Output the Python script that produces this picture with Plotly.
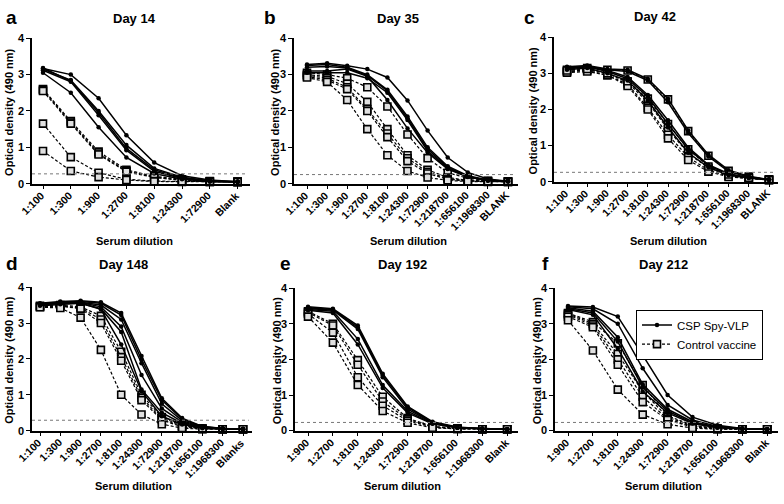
import plotly.graph_objects as go

W, H = 784, 504

# ---------------- data ----------------
cats_a = ["1:100", "1:300", "1:900", "1:2700", "1:8100", "1:24300", "1:72900", "Blank"]
csp_a = [
    [3.17, 3.00, 2.35, 1.33, 0.58, 0.22, 0.10, 0.05],
    [3.15, 2.85, 2.00, 1.06, 0.42, 0.18, 0.08, 0.05],
    [3.18, 2.82, 1.95, 0.97, 0.38, 0.16, 0.07, 0.05],
    [3.12, 2.80, 1.88, 0.92, 0.34, 0.14, 0.06, 0.05],
    [3.05, 2.50, 1.55, 0.72, 0.28, 0.12, 0.06, 0.05],
]
ctrl_a = [
    [2.60, 1.72, 0.88, 0.38, 0.20, 0.12, 0.07, 0.05],
    [2.58, 1.68, 0.83, 0.35, 0.18, 0.10, 0.06, 0.05],
    [2.55, 1.65, 0.80, 0.33, 0.17, 0.09, 0.06, 0.05],
    [1.65, 0.73, 0.30, 0.12, 0.07, 0.06, 0.05, 0.05],
    [0.90, 0.35, 0.18, 0.10, 0.06, 0.05, 0.05, 0.05],
]
cut_a = 0.27

cats_b = ["1:100", "1:300", "1:900", "1:2700", "1:8100", "1:24300", "1:72900",
          "1:218700", "1:656100", "1:1968300", "BLANK"]
csp_b = [
    [3.28, 3.31, 3.24, 3.15, 2.92, 2.29, 1.46, 0.72, 0.31, 0.13, 0.07],
    [3.25, 3.28, 3.20, 3.00, 2.58, 1.85, 1.00, 0.48, 0.22, 0.10, 0.07],
    [3.20, 3.22, 3.18, 2.97, 2.55, 1.80, 0.95, 0.45, 0.20, 0.09, 0.07],
    [3.10, 3.10, 3.15, 2.95, 2.30, 1.52, 0.85, 0.40, 0.18, 0.09, 0.06],
    [3.05, 3.05, 3.05, 2.90, 2.50, 1.75, 0.90, 0.42, 0.19, 0.09, 0.06],
]
ctrl_b = [
    [3.05, 3.00, 2.90, 2.65, 2.12, 1.35, 0.70, 0.30, 0.15, 0.08, 0.06],
    [3.00, 2.95, 2.75, 2.25, 1.50, 0.78, 0.38, 0.17, 0.09, 0.07, 0.06],
    [2.98, 2.90, 2.65, 2.05, 1.38, 0.70, 0.32, 0.14, 0.08, 0.06, 0.06],
    [2.95, 2.85, 2.60, 2.00, 1.28, 0.62, 0.28, 0.12, 0.07, 0.06, 0.05],
    [2.92, 2.80, 2.30, 1.50, 0.78, 0.35, 0.17, 0.09, 0.06, 0.05, 0.05],
]
cut_b = 0.25

cats_c = cats_b
csp_c = [
    [3.18, 3.22, 3.12, 3.10, 2.85, 2.30, 1.42, 0.75, 0.32, 0.15, 0.06],
    [3.15, 3.20, 3.10, 3.05, 2.80, 2.20, 1.35, 0.70, 0.28, 0.13, 0.06],
    [3.12, 3.18, 3.05, 2.85, 2.35, 1.60, 0.90, 0.45, 0.20, 0.11, 0.06],
    [3.10, 3.15, 3.00, 2.80, 2.25, 1.50, 0.80, 0.40, 0.18, 0.10, 0.05],
    [3.15, 3.20, 3.08, 2.90, 2.40, 1.70, 0.95, 0.47, 0.22, 0.12, 0.06],
]
ctrl_c = [
    [3.10, 3.15, 3.10, 3.08, 2.83, 2.28, 1.40, 0.72, 0.30, 0.14, 0.06],
    [3.05, 3.10, 3.00, 2.75, 2.20, 1.45, 0.78, 0.38, 0.17, 0.10, 0.05],
    [3.05, 3.08, 2.95, 2.70, 2.05, 1.30, 0.68, 0.32, 0.15, 0.09, 0.05],
    [3.02, 3.05, 2.95, 2.65, 2.00, 1.20, 0.60, 0.28, 0.13, 0.08, 0.05],
    [3.08, 3.12, 3.00, 2.78, 2.30, 1.60, 0.90, 0.42, 0.20, 0.11, 0.05],
]
cut_c = 0.26

cats_d = ["1:100", "1:300", "1:900", "1:2700", "1:8100", "1:24300", "1:72900",
          "1:218700", "1:656100", "1:1968300", "Blanks"]
csp_d = [
    [3.55, 3.60, 3.62, 3.58, 3.28, 2.08, 0.90, 0.35, 0.12, 0.06, 0.05],
    [3.53, 3.58, 3.60, 3.55, 3.22, 1.98, 0.85, 0.32, 0.11, 0.06, 0.05],
    [3.52, 3.57, 3.58, 3.50, 3.10, 1.88, 0.75, 0.28, 0.10, 0.05, 0.04],
    [3.50, 3.55, 3.57, 3.45, 2.90, 1.55, 0.62, 0.24, 0.09, 0.05, 0.04],
    [3.50, 3.55, 3.55, 3.40, 2.75, 1.15, 0.50, 0.20, 0.08, 0.05, 0.04],
    [3.48, 3.52, 3.55, 3.38, 2.40, 1.10, 0.40, 0.17, 0.07, 0.05, 0.04],
]
ctrl_d = [
    [3.48, 3.50, 3.45, 3.20, 2.20, 1.00, 0.38, 0.14, 0.06, 0.04, 0.04],
    [3.46, 3.48, 3.42, 3.10, 2.05, 0.92, 0.33, 0.12, 0.06, 0.04, 0.04],
    [3.45, 3.47, 3.40, 3.00, 1.95, 0.85, 0.30, 0.10, 0.05, 0.04, 0.04],
    [3.44, 3.42, 3.15, 2.25, 1.00, 0.45, 0.18, 0.07, 0.04, 0.04, 0.04],
]
cut_d = 0.29

cats_e = ["1:900", "1:2700", "1:8100", "1:24300", "1:72900", "1:218700",
          "1:656100", "1:1968300", "Blank"]
csp_e = [
    [3.48, 3.42, 2.95, 1.60, 0.68, 0.25, 0.10, 0.05, 0.04],
    [3.45, 3.40, 2.90, 1.55, 0.65, 0.23, 0.09, 0.05, 0.04],
    [3.43, 3.38, 2.85, 1.50, 0.60, 0.22, 0.09, 0.05, 0.04],
    [3.40, 3.35, 2.57, 1.28, 0.55, 0.20, 0.08, 0.05, 0.04],
    [3.38, 3.30, 2.42, 1.20, 0.50, 0.19, 0.08, 0.05, 0.04],
]
ctrl_e = [
    [3.35, 3.00, 1.98, 0.95, 0.35, 0.12, 0.06, 0.04, 0.04],
    [3.32, 2.95, 1.85, 0.82, 0.32, 0.11, 0.06, 0.04, 0.04],
    [3.28, 2.75, 1.50, 0.70, 0.28, 0.10, 0.05, 0.04, 0.04],
    [3.20, 2.47, 1.28, 0.55, 0.22, 0.08, 0.05, 0.04, 0.04],
]
cut_e = 0.23

cats_f = cats_e
csp_f = [
    [3.50, 3.47, 3.20, 2.12, 1.00, 0.38, 0.15, 0.06, 0.04],
    [3.48, 3.42, 3.00, 1.75, 0.72, 0.30, 0.12, 0.05, 0.04],
    [3.45, 3.35, 2.62, 1.30, 0.60, 0.25, 0.10, 0.05, 0.04],
    [3.42, 3.30, 2.50, 1.22, 0.55, 0.22, 0.09, 0.05, 0.04],
    [3.40, 3.25, 2.30, 1.10, 0.50, 0.20, 0.08, 0.05, 0.04],
]
ctrl_f = [
    [3.30, 3.05, 2.45, 1.28, 0.42, 0.15, 0.06, 0.04, 0.04],
    [3.28, 3.00, 2.15, 1.10, 0.38, 0.13, 0.06, 0.04, 0.04],
    [3.25, 2.95, 2.00, 0.95, 0.33, 0.12, 0.05, 0.04, 0.04],
    [3.20, 2.90, 1.85, 0.80, 0.30, 0.10, 0.05, 0.04, 0.04],
    [3.10, 2.25, 1.15, 0.45, 0.18, 0.07, 0.04, 0.04, 0.04],
]
cut_f = 0.23

titles = ["Day 14", "Day 35", "Day 42", "Day 148", "Day 192", "Day 212"]
letters = ["a", "b", "c", "d", "e", "f"]
y_title = "Optical density (490 nm)"
x_title = "Serum dilution"
y_ticks = [0, 1, 2, 3, 4]

panels_data = [
    (cats_a, csp_a, ctrl_a, cut_a),
    (cats_b, csp_b, ctrl_b, cut_b),
    (cats_c, csp_c, ctrl_c, cut_c),
    (cats_d, csp_d, ctrl_d, cut_d),
    (cats_e, csp_e, ctrl_e, cut_e),
    (cats_f, csp_f, ctrl_f, cut_f),
]

# ---------------- layout geometry (pixels) ----------------
# x_left, x_right, y_top(value 4), y_bottom(value 0), first-category px, spacing px
geom = [
    (32, 250, 33, 182, 43, 27.8),
    (294, 518, 33, 182, 307, 20.1),
    (554, 778, 32, 180, 567, 20.2),
    (32, 252, 288, 435, 40, 20.3),
    (295, 518, 289, 435, 308, 24.9),
    (555, 778, 289, 435, 568, 24.9),
]
title_pos = [(134, 13), (398, 13), (655, 11), (123, 265), (402, 265), (663, 265)]
letter_pos = [(4, 12), (262, 12), (522, 12), (4, 264), (278, 264), (540, 264)]
ytitle_x = [9, 275, 533, 9, 277, 537]
xtitle_pos = [(134, 241), (408, 241), (668, 241), (133, 492), (402, 492), (663, 492)]

FONT = "Liberation Sans, Arial, sans-serif"

fig = go.Figure()
layout = dict(
    width=W, height=H, margin=dict(l=0, r=0, t=0, b=0),
    paper_bgcolor="white", plot_bgcolor="white",
    font=dict(family=FONT, color="black"),
    showlegend=True,
    legend=dict(x=763 / W, y=1 - 311 / H, xanchor="right", yanchor="top",
                bordercolor="black", borderwidth=1, bgcolor="white",
                font=dict(size=11.5, family=FONT, color="black"),
                tracegroupgap=0, itemwidth=30),
)
annotations = []
shapes = []

for i, ((cats, csp, ctrl, cut), g) in enumerate(zip(panels_data, geom)):
    k = "" if i == 0 else str(i + 1)
    xl, xr, yt, yb, c0, sp = g
    xr_ = "x" + k
    yr_ = "y" + k
    layout["xaxis" + k] = dict(
        domain=[xl / W, xr / W], anchor=yr_, type="category",
        categoryorder="array", categoryarray=cats,
        range=[(xl - c0) / sp, (xr - c0) / sp],
        showline=True, linecolor="black", linewidth=1.5,
        ticks="outside", ticklen=4, tickwidth=1.2, tickcolor="black",
        showticklabels=False,
        showgrid=False, zeroline=False, fixedrange=True,
    )
    layout["yaxis" + k] = dict(
        domain=[1 - yb / H, 1 - yt / H], anchor=xr_, range=[0, 4],
        tickvals=y_ticks, showline=True, linecolor="black", linewidth=1.5,
        ticks="outside", ticklen=4, tickwidth=1.2, tickcolor="black",
        tickfont=dict(size=11, family=FONT, weight="bold"),
        showgrid=False, zeroline=False, fixedrange=True,
    )
    # rotated category labels, anchored at their tick
    for c in cats:
        annotations.append(dict(
            text=c, x=c, y=0, xref=xr_, yref=yr_, showarrow=False,
            textangle=-45, xanchor="right", yanchor="top",
            xshift=5, yshift=-4, borderpad=0,
            font=dict(size=10.5, family=FONT, weight="bold")))
    # threshold line
    shapes.append(dict(type="line", xref=xr_ + " domain", yref=yr_,
                       x0=0, x1=0.985, y0=cut, y1=cut,
                       line=dict(color="#777", width=1, dash="dot")))
    for j, s in enumerate(ctrl):
        fig.add_trace(go.Scatter(
            x=cats, y=s, xaxis=xr_, yaxis=yr_, mode="lines+markers",
            name="Control vaccine", legendgroup="ctrl",
            showlegend=(i == 5 and j == 0), legendrank=2,
            line=dict(color="black", width=1.2, dash="3px,2px"),
            marker=dict(symbol="square", size=7, color="#e0e0e0",
                        line=dict(color="black", width=1.6)),
            cliponaxis=False,
        ))
    for j, s in enumerate(csp):
        fig.add_trace(go.Scatter(
            x=cats, y=s, xaxis=xr_, yaxis=yr_, mode="lines+markers",
            name="CSP Spy-VLP", legendgroup="csp",
            showlegend=(i == 5 and j == 0), legendrank=1,
            line=dict(color="black", width=1.5),
            marker=dict(symbol="circle", size=4.5, color="black"),
            cliponaxis=False,
        ))
    tx, ty = title_pos[i]
    annotations.append(dict(text=titles[i], x=tx / W, y=1 - ty / H, xref="paper",
                            yref="paper", showarrow=False, xanchor="center",
                            yanchor="middle",
                            font=dict(size=13, family=FONT, weight="bold")))
    lx, ly = letter_pos[i]
    annotations.append(dict(text=letters[i], x=lx / W, y=1 - ly / H, xref="paper",
                            yref="paper", showarrow=False, xanchor="left",
                            yanchor="middle",
                            font=dict(size=19, family=FONT, weight="bold")))
    annotations.append(dict(text=y_title, x=ytitle_x[i] / W,
                            y=1 - ((yt + yb) / 2 + 2) / H, xref="paper", yref="paper",
                            showarrow=False, textangle=-90, xanchor="center",
                            yanchor="middle",
                            font=dict(size=11, family=FONT, weight="bold")))
    sx, sy = xtitle_pos[i]
    annotations.append(dict(text=x_title, x=sx / W, y=1 - sy / H, xref="paper",
                            yref="paper", showarrow=False, xanchor="center",
                            yanchor="middle",
                            font=dict(size=11, family=FONT, weight="bold")))

layout["annotations"] = annotations
layout["shapes"] = shapes
fig.update_layout(**layout)
fig.write_html(
    "out.html",
    config={"displayModeBar": False},
    post_script="document.body.style.margin='0';document.body.style.overflow='hidden';",
)
